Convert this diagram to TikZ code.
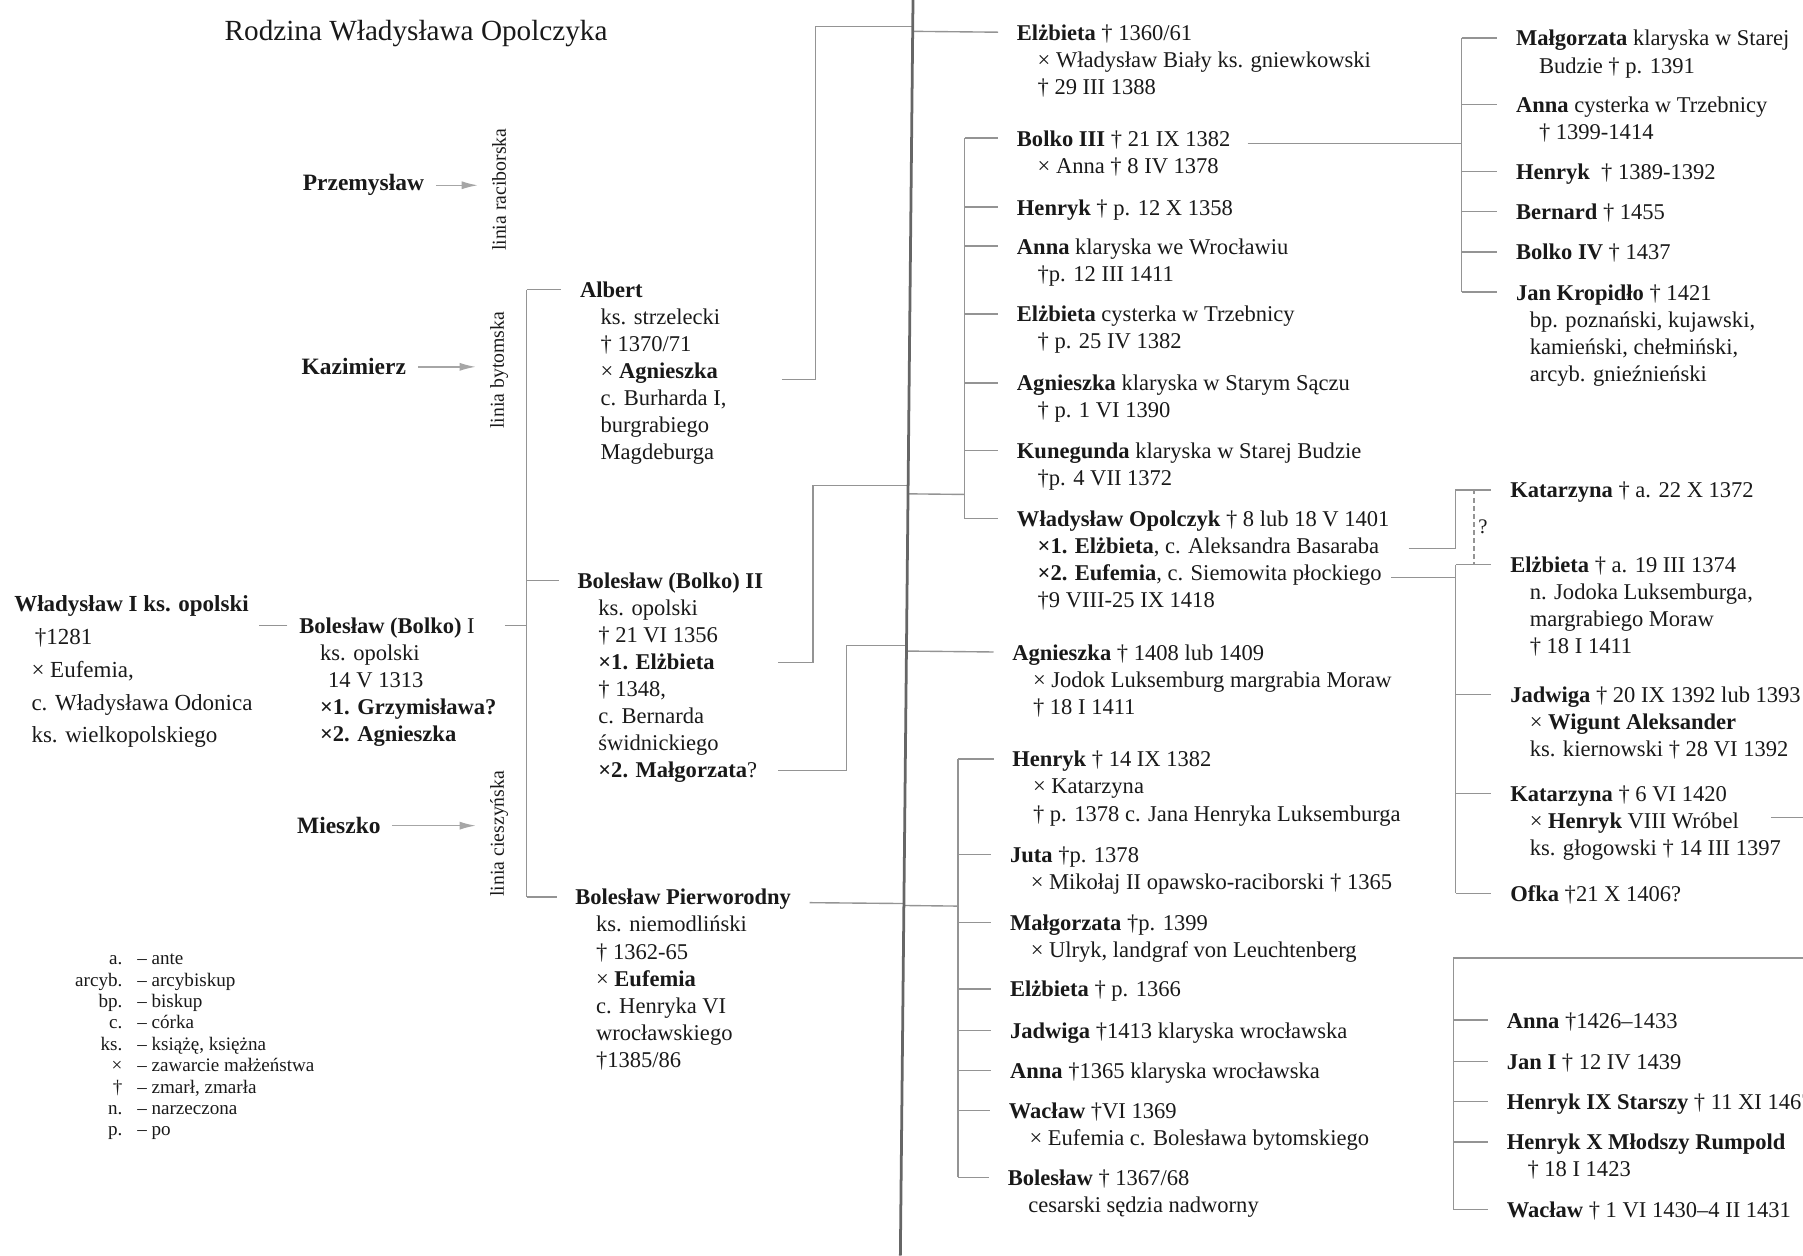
\documentclass[tikz,border=0pt]{standalone}
\usepackage{fontspec}
\setmainfont{Liberation Serif}
\usetikzlibrary{arrows.meta,calc}
\tikzset{>={Latex[width=3.5pt,length=7pt]}}

\colorlet{ink}{black!90}
\colorlet{wire}{black!42}

\tikzset{
  person/.style={anchor=base west, inner sep=0pt, text=ink,
    font=\fontsize{9.8}{11.75}\selectfont},
  elder/.style={person, font=\fontsize{10}{14.25}\selectfont},
  founder/.style={person, font=\fontsize{10.2}{12}\selectfont\bfseries},
  branchname/.style={rotate=90, inner sep=0pt, text=ink,
    font=\fontsize{8.6}{10}\selectfont},
  conn/.style={draw=wire, line width=0.6pt},
  branch/.style={draw=black!35, line width=0.6pt, ->, shorten >=6pt},
  gutter/.style={draw=black!60, line width=1.2pt},
}
\newcommand\Ind{\hspace*{9pt}}
% lines of one entry, baseline on the first line
\newcommand\lines[1]{\begin{tabular}[t]{@{}l@{}}#1\end{tabular}}
% tick from a bracket to the first line of a node
\newcommand\tick[2]{%
  \coordinate (#1-t) at ([shift={(-16,-7)}]#1.base west);
  \draw[conn] (#1-t -| #2) -- (#1-t);}

\begin{document}
\begin{tikzpicture}[x=0.5pt,y=-0.5pt]
  \useasboundingbox (0,0) rectangle (1568,1092);
  \coordinate (gtop) at (794,0);
  \coordinate (gbot) at (783,1092);

  \node[anchor=base west, inner sep=0pt, text=ink, font=\fontsize{12.7}{15}\selectfont]
    (title) at (195,35) {Rodzina Władysława Opolczyka};

  % the three lines of the dynasty
  \node[founder] (przem) at (263,166) {Przemysław};
  \node[founder] (kazim) at (262,326) {Kazimierz};
  \node[founder] (mieszko) at (258,725) {Mieszko};
  \node[branchname] (lrac) at (434,165) {linia raciborska};
  \node[branchname] (lbyt) at (434,322) {linia bytomska};
  \node[branchname] (lcie) at (434,725) {linia cieszyńska};
  \draw[branch] ([xshift=5pt]przem.east) -- (przem.east -| lrac.north);
  \draw[branch] ([xshift=5pt]kazim.east) -- (kazim.east -| lbyt.north);
  \draw[branch] ([xshift=5pt]mieszko.east) -- (mieszko.east -| lcie.north);

  \node[elder] (wlad) at (12,532) {\lines{\textbf{Władysław I ks. opolski}\\
    \hspace*{9pt}†1281\\ \hspace*{7.5pt}× Eufemia,\\
    \hspace*{7.5pt}c. Władysława Odonica\\ \hspace*{7.5pt}ks. wielkopolskiego}};
  \node[person] (bolko1) at (260,551) {\lines{\textbf{Bolesław (Bolko)} I\\
    \Ind ks. opolski\\ \Ind\hspace*{3.5pt}14 V 1313\\
    \Ind\textbf{×1. Grzymisława?}\\ \Ind\textbf{×2. Agnieszka}}};

  \node[person] (albert) at (504,259) {\lines{\textbf{Albert}\\ \Ind ks. strzelecki\\
    \Ind† 1370/71\\ \Ind× \textbf{Agnieszka}\\ \Ind c. Burharda I,\\
    \Ind burgrabiego\\ \Ind Magdeburga}};
  \node[person] (bolko2) at (502,512) {\lines{\textbf{Bolesław (Bolko) II}\\
    \Ind ks. opolski\\ \Ind† 21 VI 1356\\ \Ind\textbf{×1. Elżbieta}\\
    \Ind† 1348,\\ \Ind c. Bernarda\\ \Ind świdnickiego\\
    \Ind\textbf{×2. Małgorzata}?}};
  \node[person] (pierw) at (500,787) {\lines{\textbf{Bolesław Pierworodny}\\
    \Ind ks. niemodliński\\ \Ind† 1362-65\\ \Ind× \textbf{Eufemia}\\
    \Ind c. Henryka VI\\ \Ind wrocławskiego\\ \Ind†1385/86}};

  % abbreviations
  \node[anchor=base west, inner sep=0pt, text=ink, font=\fontsize{8.3}{9.3}\selectfont]
    (legend) at (65,839) {\begin{tabular}[t]{@{}r@{\hspace{6.5pt}}l@{}}
    a. & – ante\\ arcyb. & – arcybiskup\\ bp. & – biskup\\ c. & – córka\\
    ks. & – książę, księżna\\ × & – zawarcie małżeństwa\\
    † & – zmarł, zmarła\\ n. & – narzeczona\\ p. & – po\end{tabular}};

  % right page: children of Albert and Boleslaw II
  \node[person] (elz1) at (884,35) {\lines{\textbf{Elżbieta} † 1360/61\\
    \Ind× Władysław Biały ks. gniewkowski\\ \Ind† 29 III 1388}};
  \node[person] (bolko3) at (884,127) {\lines{\textbf{Bolko III} † 21 IX 1382\\
    \Ind× Anna † 8 IV 1378}};
  \node[person] (henr1) at (884,187) {\textbf{Henryk} † p. 12 X 1358};
  \node[person] (anna1) at (884,221) {\lines{\textbf{Anna} klaryska we Wrocławiu\\
    \Ind†p. 12 III 1411}};
  \node[person] (elz2) at (884,280) {\lines{\textbf{Elżbieta} cysterka w Trzebnicy\\
    \Ind† p. 25 IV 1382}};
  \node[person] (agn1) at (884,340) {\lines{\textbf{Agnieszka} klaryska w Starym Sączu\\
    \Ind† p. 1 VI 1390}};
  \node[person] (kun) at (884,399) {\lines{\textbf{Kunegunda} klaryska w Starej Budzie\\
    \Ind†p. 4 VII 1372}};
  \node[person] (opol) at (884,458) {\lines{\textbf{Władysław Opolczyk} † 8 lub 18 V 1401\\
    \Ind\textbf{×1. Elżbieta}, c. Aleksandra Basaraba\\
    \Ind\textbf{×2. Eufemia}, c. Siemowita płockiego\\ \Ind†9 VIII-25 IX 1418}};
  \node[person] (agn2) at (880,574) {\lines{\textbf{Agnieszka} † 1408 lub 1409\\
    \Ind× Jodok Luksemburg margrabia Moraw\\ \Ind† 18 I 1411}};

  % children of Boleslaw Pierworodny
  \node[person] (henr2) at (880,667) {\lines{\textbf{Henryk} † 14 IX 1382\\
    \Ind× Katarzyna\\ \Ind† p. 1378 c. Jana Henryka Luksemburga}};
  \node[person] (juta) at (878,750) {\lines{\textbf{Juta} †p. 1378\\
    \Ind× Mikołaj II opawsko-raciborski † 1365}};
  \node[person] (malg1) at (878,809) {\lines{\textbf{Małgorzata} †p. 1399\\
    \Ind× Ulryk, landgraf von Leuchtenberg}};
  \node[person] (elz3) at (878,867) {\textbf{Elżbieta} † p. 1366};
  \node[person] (jadw1) at (878,903) {\textbf{Jadwiga} †1413 klaryska wrocławska};
  \node[person] (anna2) at (878,938) {\textbf{Anna} †1365 klaryska wrocławska};
  \node[person] (wacl1) at (877,973) {\lines{\textbf{Wacław} †VI 1369\\
    \Ind× Eufemia c. Bolesława bytomskiego}};
  \node[person] (bols) at (876,1031) {\lines{\textbf{Bolesław} † 1367/68\\
    \Ind cesarski sędzia nadworny}};

  % children of Bolko III
  \node[person] (malg2) at (1318,40) {\lines{\textbf{Małgorzata} klaryska w Starej\\
    \hspace*{10pt}Budzie † p. 1391}};
  \node[person] (anna3) at (1318,98) {\lines{\textbf{Anna} cysterka w Trzebnicy\\
    \hspace*{10pt}† 1399-1414}};
  \node[person] (henr3) at (1318,156) {\textbf{Henryk}\ \ † 1389-1392};
  \node[person] (bern) at (1318,191) {\textbf{Bernard} † 1455};
  \node[person] (bolko4) at (1318,226) {\textbf{Bolko IV} † 1437};
  \node[person] (jan) at (1318,261) {\lines{\textbf{Jan Kropidło} † 1421\\
    \hspace*{6pt}bp. poznański, kujawski,\\ \hspace*{6pt}kamieński, chełmiński,\\
    \hspace*{6pt}arcyb. gnieźnieński}};

  % children of Wladyslaw Opolczyk
  \node[person] (kat1) at (1313,433) {\textbf{Katarzyna} † a. 22 X 1372};
  \node[person] (elz4) at (1313,498) {\lines{\textbf{Elżbieta} † a. 19 III 1374\\
    \hspace*{8.5pt}n. Jodoka Luksemburga,\\ \hspace*{8.5pt}margrabiego Moraw\\
    \hspace*{8.5pt}† 18 I 1411}};
  \node[person] (jadw2) at (1313,611) {\lines{\textbf{Jadwiga} † 20 IX 1392 lub 1393\\
    \hspace*{8.5pt}× \textbf{Wigunt Aleksander}\\ \hspace*{8.5pt}ks. kiernowski † 28 VI 1392}};
  \node[person] (kat2) at (1313,697) {\lines{\textbf{Katarzyna} † 6 VI 1420\\
    \hspace*{8.5pt}× \textbf{Henryk} VIII Wróbel\\ \hspace*{8.5pt}ks. głogowski † 14 III 1397}};
  \node[person] (ofka) at (1313,784) {\textbf{Ofka} †21 X 1406?};

  % children of Henryk VIII
  \node[person] (anna4) at (1310,894) {\textbf{Anna} †1426–1433};
  \node[person] (jan1) at (1310,930) {\textbf{Jan I} † 12 IV 1439};
  \node[person] (henr9) at (1310,965) {\textbf{Henryk IX Starszy} † 11 XI 1467};
  \node[person] (henr10) at (1310,1000) {\lines{\textbf{Henryk X Młodszy Rumpold}\\
    \hspace*{9pt}† 18 I 1423}};
  \node[person] (wacl2) at (1310,1059) {\textbf{Wacław} † 1 VI 1430–4 II 1431};

  % brackets
  \coordinate (bxL) at (458,0);
  \coordinate (bxA) at (839,0);
  \coordinate (bxB) at (833,0);
  \coordinate (bxC) at (1271,0);
  \coordinate (bxD) at (1266,0);
  \coordinate (box) at (1264,833);
  \coordinate (join1) at (839,430);
  \coordinate (join2) at (833,788);

  \foreach \k in {albert,bolko2,pierw} {\tick{\k}{bxL}}
  \draw[conn] (albert-t -| bxL) -- (pierw-t -| bxL);
  \coordinate (bolko1-t) at ([shift={(-10,-7)}]bolko1.base west);
  \draw[conn] (bolko1-t) -- ([xshift=2.5pt]bolko1-t -| wlad.east);
  \draw[conn] ([xshift=3.5pt]bolko1-t -| bolko1.east) -- (bolko1-t -| bxL);

  \foreach \k in {bolko3,henr1,anna1,elz2,agn1,kun,opol} {\tick{\k}{bxA}}
  \draw[conn] (bolko3-t -| bxA) -- (opol-t -| bxA);
  \foreach \k in {henr2,juta,malg1,elz3,jadw1,anna2,wacl1,bols} {\tick{\k}{bxB}}
  \draw[conn] (henr2-t -| bxB) -- (bols-t -| bxB);
  \foreach \k in {malg2,anna3,henr3,bern,bolko4,jan} {\tick{\k}{bxC}}
  \draw[conn] (malg2-t -| bxC) -- (jan-t -| bxC);
  \foreach \k in {elz4,jadw2,kat2,ofka} {\tick{\k}{bxD}}
  \draw[conn] (elz4-t -| bxD) -- (ofka-t -| bxD);
  \foreach \k in {anna4,jan1,henr9,henr10,wacl2} {\tick{\k}{box}}
  \draw[conn] ([xshift=160pt]box) -- (box) -- (box |- wacl2-t);

  % marriages to their children
  \coordinate (elz1-t) at ([shift={(-16,-7)}]elz1.base west);
  \coordinate (agn2-t) at ([shift={(-16,-7)}]agn2.base west);
  \coordinate (kat1-t) at ([shift={(-16,-7)}]kat1.base west);
  \coordinate (albert-m) at ([shift={(176,71)}]albert.base west);
  \coordinate (bolko2-m1) at ([shift={(175,64)}]bolko2.base west);
  \coordinate (bolko2-m2) at ([shift={(175,158)}]bolko2.base west);
  \coordinate (pierw-m) at ([shift={(204,-2)}]pierw.base west);
  \coordinate (bolko3-m) at ([shift={(201,-2)}]bolko3.base west);
  \coordinate (opol-m1) at ([shift={(341,19)}]opol.base west);
  \coordinate (opol-m2) at ([shift={(326,44)}]opol.base west);
  \coordinate (kat2-m) at ([shift={(227,14)}]kat2.base west);

  \draw[conn] (albert-m) -- ++(29,0) |- ([yshift=2pt]$(gtop)!(elz1-t)!(gbot)$);
  \draw[conn] ($(gtop)!(elz1-t)!(gbot)$) -- (elz1-t);
  \draw[conn] (bolko2-m1) -- ++(30,0) |- ([yshift=3.5pt]$(gtop)!(join1)!(gbot)$);
  \draw[conn] ($(gtop)!(join1)!(gbot)$) -- (join1);
  \draw[conn] (bolko2-m2) -- ++(59,0) |- ([yshift=2.5pt]$(gtop)!(agn2-t)!(gbot)$);
  \draw[conn] ($(gtop)!(agn2-t)!(gbot)$) -- (agn2-t);
  \draw[conn] (pierw-m) -- ($(gtop)!(pierw-m)!(gbot)$);
  \draw[conn] ($(gtop)!(join2)!(gbot)$) -- (join2);
  \draw[conn] (bolko3-m) -- (bolko3-m -| bxC);
  \draw[conn] (opol-m1) -| (kat1-t -| bxD) -- (kat1-t);
  \draw[conn] (opol-m2) -- (opol-m2 -| bxD);
  \draw[conn, dash pattern=on 2pt off 1.5pt] ([xshift=8pt]kat1-t -| bxD)
    -- node[right=1.5pt, inner sep=0pt, text=ink, font=\fontsize{9}{10}\selectfont] (qmark) {?}
    ([xshift=8pt]elz4-t -| bxD);
  \draw[conn] (kat2-m) -- ++(40,0);

  % fold of the book
  \draw[gutter] (gtop) -- (gbot);
\end{tikzpicture}
\end{document}
